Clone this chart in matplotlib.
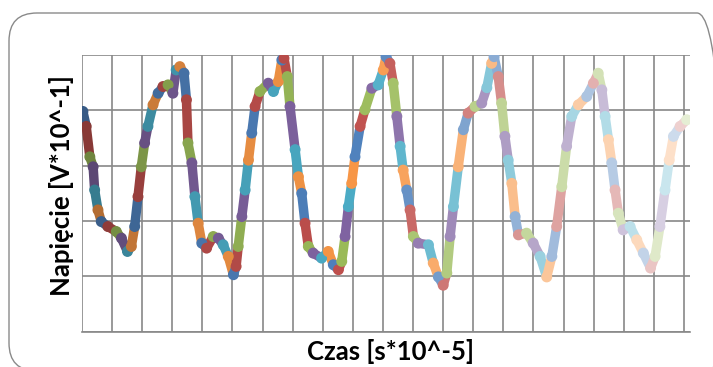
import matplotlib
matplotlib.use('Agg')
import matplotlib.pyplot as plt
import numpy as np
from matplotlib.collections import LineCollection
from matplotlib.patches import FancyBboxPatch
from matplotlib.colors import to_rgb

# odczyt z wykresu (czas w jednostkach siatki * 10, napiecie w jednostkach siatki)
czas = [0.3, 1.4, 2.6, 3.7, 4.2, 5.3, 6.4, 8.6, 11.4, 13.1,
        15.1, 16.4, 17.5, 18.6, 19.7, 20.8, 21.9, 23.6, 25.3, 26.9,
        28.6, 30.2, 31.3, 32.5, 33.9, 34.7, 35.2, 36.5, 37.5, 38.6,
        39.8, 41.4, 43.6, 45.3, 46.9, 48.6, 50.3, 51.2, 51.9, 53.1,
        54.2, 55.3, 56.4, 57.5, 59.1, 61.9, 63.6, 65.2, 66.4, 67.1,
        68.2, 69.1, 70.8, 71.9, 73.0, 74.1, 75.2, 76.8, 79.6, 81.8,
        83.5, 85.2, 86.3, 87.4, 88.5, 89.6, 90.7, 92.4, 94.0, 96.3,
        98.4, 100.1, 101.0, 102.3, 103.4, 104.6, 105.7, 106.7, 107.9, 109.0,
        110.1, 111.7, 115.1, 116.7, 118.4, 120.0, 121.2, 122.3, 123.4, 125.0,
        126.7, 128.3, 130.6, 132.8, 134.5, 136.1, 136.9, 138.3, 139.4, 140.5,
        141.6, 142.8, 143.9, 145.0, 147.7, 149.9, 152.2, 154.4, 156.1, 157.7,
        159.4, 161.0, 162.7, 164.9, 167.7, 169.9, 171.5, 172.7, 173.8, 174.9,
        176.0, 177.1, 178.2, 179.8, 182.1, 184.3, 186.5, 188.9, 190.4, 192.0,
        193.7, 195.1, 196.5, 198.7, 200.9]
napiecie = [3.98, 3.71, 3.16, 2.98, 2.56, 2.20, 1.99, 1.90, 1.81, 1.69,
            1.45, 1.54, 1.90, 2.44, 2.98, 3.41, 3.71, 4.10, 4.31, 4.43,
            4.46, 4.31, 4.73, 4.79, 4.67, 4.19, 3.41, 3.05, 2.44, 1.96,
            1.60, 1.51, 1.72, 1.69, 1.57, 1.36, 1.03, 1.18, 1.54, 2.08,
            2.56, 3.10, 3.59, 4.07, 4.34, 4.49, 4.34, 4.52, 4.91, 4.94,
            4.61, 4.07, 3.29, 2.80, 2.50, 1.96, 1.54, 1.42, 1.33, 1.45,
            1.21, 1.12, 1.27, 1.72, 2.26, 2.68, 3.16, 3.71, 4.01, 4.40,
            4.46, 4.73, 4.97, 4.85, 4.49, 3.89, 3.35, 2.92, 2.56, 2.20,
            1.72, 1.60, 1.57, 1.24, 0.99, 0.84, 1.06, 1.72, 2.26, 2.98,
            3.65, 3.95, 4.07, 4.13, 4.41, 4.85, 4.97, 4.61, 4.13, 3.53,
            3.10, 2.68, 2.08, 1.75, 1.78, 1.60, 1.36, 0.99, 1.36, 1.90,
            2.62, 3.35, 3.89, 4.10, 4.25, 4.49, 4.67, 4.37, 3.89, 3.47,
            3.05, 2.56, 2.14, 1.84, 1.90, 1.66, 1.42, 1.15, 1.36, 1.90,
            2.56, 3.10, 3.53, 3.71, 3.83]

paleta = ['#4F81BD', '#C0504D', '#9BBB59', '#8064A2', '#4BACC6', '#F79646']

x = np.array(czas)
y = np.array(napiecie)

# kolory punktow: ciemniejsze na poczatku, coraz jasniejsze dalej (jak w Excelu)
odcien = np.interp(x, [0, 40, 90, 130, 170, 202], [-0.3, -0.1, 0.0, 0.3, 0.55, 0.75])
kolory = []
for i in range(len(x)):
    c = np.array(to_rgb(paleta[i % 6]))
    t = odcien[i]
    if t < 0:
        c = c * (1 + t)
    else:
        c = c + (1 - c) * t
    kolory.append(c)

fig = plt.figure(figsize=(7.13, 3.67), dpi=100)
ax = fig.add_axes([82/713, 35.3/367, 608/713, 276.7/367])

ramka = FancyBboxPatch((0.09, -0.04), 7.16, 3.58, boxstyle='round,pad=0,rounding_size=0.28',
                       transform=fig.dpi_scale_trans, facecolor='none', edgecolor='#8a8a8a', lw=1.0)
fig.patches.append(ramka)

segs = [[(x[i], y[i]), (x[i+1], y[i+1])] for i in range(len(x)-1)]
lc = LineCollection(segs, colors=kolory[:-1], linewidths=6.8, capstyle='round', zorder=3)
ax.add_collection(lc)
ax.scatter(x, y, s=62, c=kolory, edgecolors='none', zorder=4)

ax.set_xlim(0, 202)
ax.set_ylim(0, 5)
ax.set_xticks(np.arange(0, 201, 10))
ax.set_yticks(np.arange(0, 6, 1))
ax.grid(True, color='#888888', lw=1.2)
ax.set_axisbelow(True)
ax.tick_params(length=0, labelleft=False, labelbottom=False)
for s in ['top', 'right', 'left']:
    ax.spines[s].set_visible(False)
ax.spines['bottom'].set_color('#888888')
ax.spines['bottom'].set_linewidth(1.2)

fig.text(391/713, 1 - 351/367, 'Czas [s*10^-5]', ha='center', va='center',
         fontsize=18.5, fontweight='bold', family='Lato')
fig.text(62/713, 1 - 186/367, 'Napięcie [V*10^-1]', ha='center', va='center',
         rotation=90, fontsize=18.5, fontweight='bold', family='Lato')

plt.savefig('out.png', dpi=100)
